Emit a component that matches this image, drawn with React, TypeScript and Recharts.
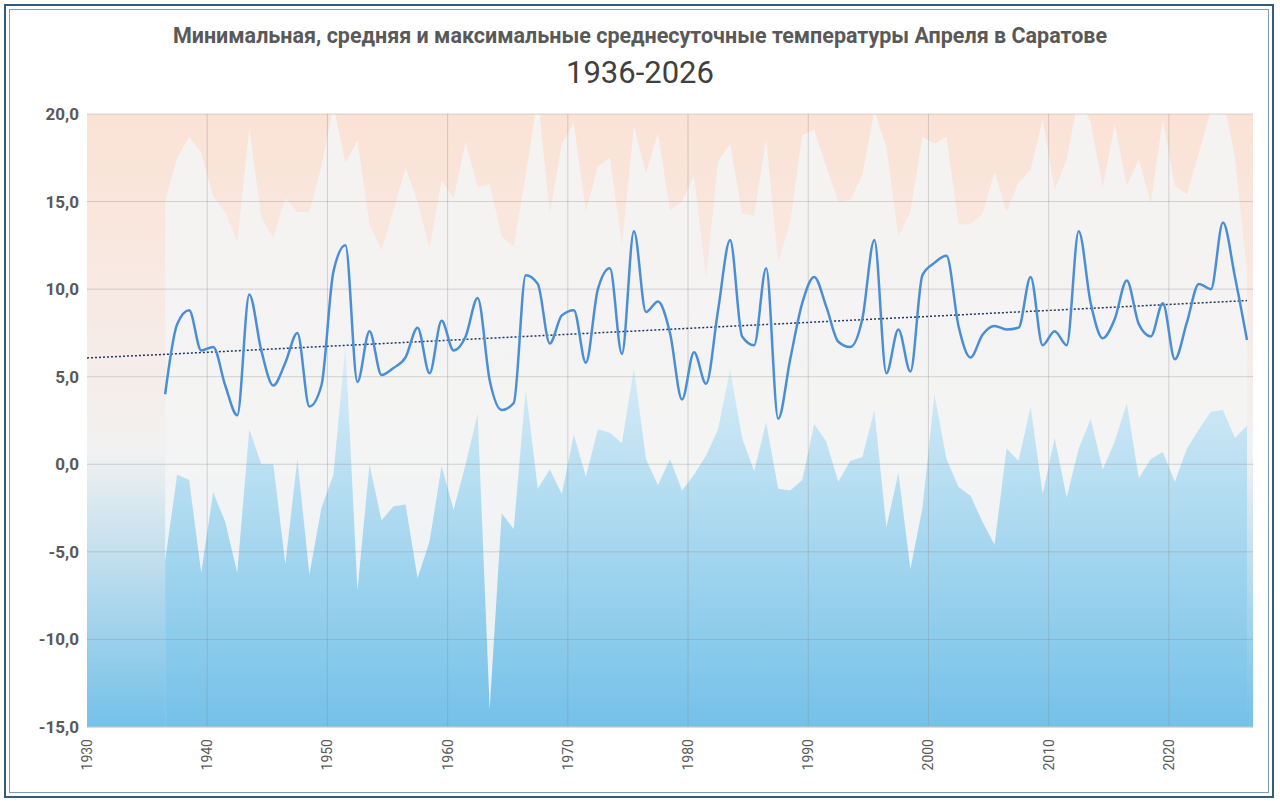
import React from 'react';
import { ComposedChart, Area, Line, XAxis, YAxis, ReferenceArea, ReferenceLine } from 'recharts';

const years = Array.from({ length: 91 }, (_, i) => 1936 + i);

const meanTemp = [
  4.0, 8.0, 8.8, 6.5, 6.7, 4.5, 2.8, 9.7, 6.5, 4.5,
  5.8, 7.5, 3.3, 4.5, 11.0, 12.5, 4.7, 7.6, 5.1, 5.5,
  6.1, 7.8, 5.2, 8.2, 6.5, 7.3, 9.5, 4.8, 3.1, 3.5,
  10.8, 10.3, 6.9, 8.5, 8.8, 5.8, 10.0, 11.2, 6.3, 13.3,
  8.7, 9.3, 7.5, 3.7, 6.4, 4.6, 8.8, 12.8, 7.3, 6.8,
  11.2, 2.6, 6.0, 9.2, 10.7, 9.0, 7.0, 6.7, 8.3, 12.8,
  5.2, 7.7, 5.3, 10.8, 11.5, 11.9, 7.9, 6.1, 7.4, 7.9,
  7.7, 7.8, 10.7, 6.8, 7.6, 6.8, 13.3, 9.2, 7.2, 8.3,
  10.5, 8.0, 7.3, 9.2, 6.0, 8.1, 10.3, 10.0, 13.8, 10.7,
  7.1,
];

const maxTemp = [
  15.0, 17.5, 18.7, 17.8, 15.3, 14.4, 12.7, 19.2, 14.1, 12.9,
  15.2, 14.4, 14.4, 17.0, 20.5, 17.2, 18.5, 13.7, 12.2, 14.5,
  16.9, 15.0, 12.3, 16.2, 15.2, 18.4, 15.8, 16.0, 13.0, 12.4,
  16.5, 21.0, 14.3, 18.3, 19.5, 14.4, 17.0, 17.5, 12.5, 19.3,
  16.6, 18.9, 14.5, 15.0, 16.5, 10.6, 17.3, 18.3, 14.3, 14.2,
  18.6, 11.5, 13.8, 18.8, 19.1, 17.0, 15.0, 15.1, 16.5, 20.2,
  18.1, 13.0, 14.4, 18.7, 18.3, 18.7, 13.7, 13.7, 14.3, 16.7,
  14.4, 16.1, 16.8, 19.7, 15.7, 17.4, 21.0, 19.5, 15.8, 19.4,
  15.9, 17.4, 14.9, 19.7, 15.9, 15.4, 17.8, 20.2, 21.0, 17.5,
  11.0,
];

const minTemp = [
  -5.5, -0.6, -0.9, -6.2, -1.6, -3.3, -6.2, 2.0, 0.0, 0.0,
  -5.7, 0.3, -6.3, -2.5, -0.6, 6.8, -7.2, 0.0, -3.2, -2.4,
  -2.3, -6.5, -4.4, -0.1, -2.6, 0.0, 2.9, -14.0, -2.8, -3.7,
  4.3, -1.4, -0.3, -1.7, 1.7, -0.7, 2.0, 1.8, 1.2, 5.5,
  0.3, -1.2, 0.3, -1.5, -0.6, 0.5, 2.0, 5.4, 1.5, -0.4,
  2.4, -1.4, -1.5, -0.9, 2.3, 1.3, -1.0, 0.2, 0.4, 3.1,
  -3.6, -0.5, -6.0, -2.5, 4.0, 0.3, -1.3, -1.8, -3.3, -4.6,
  0.9, 0.2, 3.3, -1.7, 1.5, -1.9, 0.9, 2.6, -0.3, 1.3,
  3.5, -0.8, 0.3, 0.7, -1.0, 0.9, 2.0, 3.0, 3.1, 1.5,
  2.2,
];

const xTicks = [1930, 1940, 1950, 1960, 1970, 1980, 1990, 2000, 2010, 2020];
const yTicks = [-15, -10, -5, 0, 5, 10, 15, 20];

// linear trend of the mean (as Excel's trendline), extended back to 1930
const n = years.length;
const mx = years.reduce((a, b) => a + b, 0) / n;
const my = meanTemp.reduce((a, b) => a + b, 0) / n;
let sxy = 0;
let sxx = 0;
years.forEach((y, i) => {
  sxy += (y - mx) * (meanTemp[i] - my);
  sxx += (y - mx) * (y - mx);
});
const slope = sxy / sxx;
const trendAt = (y: number) => my + slope * (y - mx);

// points sit in the middle of each year's slot
const data = [
  { pos: 1930, trend: trendAt(1930) },
  ...years.map((year, i) => ({
    pos: year + 0.5,
    mean: meanTemp[i],
    max: maxTemp[i],
    min: minTemp[i],
    trend: trendAt(year),
  })),
];

const fmt = (v: number) => v.toFixed(1).replace('.', ',');

const XTick = (props: any) => {
  const { x, y, payload } = props;
  return (
    <text x={x + 5} y={y + 4} transform={`rotate(-90 ${x + 5} ${y + 4})`} textAnchor="end" fill="#595959" fontSize={14} fontFamily="Roboto, sans-serif">
      {payload.value}
    </text>
  );
};

const gridColor = 'rgba(140,140,140,0.35)';

export default function App() {
  return (
    <div style={{ position: 'fixed', left: 0, top: 0, width: 1280, height: 806, background: '#fff', fontFamily: 'Roboto, sans-serif' }}>
      <div style={{ position: 'absolute', left: 4, top: 4, width: 1266, height: 790, border: '2px solid #2f5d7e', boxShadow: 'inset 0 0 0 3px #fff, inset 0 0 0 4px #7f9bb0' }} />
      <div style={{ position: 'absolute', top: 23, width: 1280, textAlign: 'center', fontSize: 21.5, fontWeight: 'bold', color: '#595959' }}>
        Минимальная, средняя и максимальные среднесуточные температуры Апреля в Саратове
      </div>
      <div style={{ position: 'absolute', top: 54, width: 1280, textAlign: 'center', fontSize: 31, color: '#404040' }}>
        1936-2026
      </div>
      <div style={{ position: 'absolute', left: 0, top: 0 }}>
        <ComposedChart width={1280} height={806} data={data} margin={{ top: 114, right: 27, left: 0, bottom: 9 }}>
          <defs>
            <linearGradient id="bg" x1="0" y1="0" x2="0" y2="1">
              <stop offset="0%" stopColor="#fbe2d5" />
              <stop offset="40%" stopColor="#f6ece8" />
              <stop offset="55%" stopColor="#f1f1f1" />
              <stop offset="100%" stopColor="#74c1e8" />
            </linearGradient>
            <linearGradient id="minFill" x1="0" y1="0" x2="0" y2="1">
              <stop offset="0%" stopColor="#dceef7" />
              <stop offset="100%" stopColor="#74c1e8" />
            </linearGradient>
          </defs>
          <XAxis
            dataKey="pos"
            type="number"
            domain={[1930, 2027]}
            ticks={xTicks}
            tick={<XTick />}
            height={70}
            axisLine={{ stroke: '#d0d0d0' }}
            tickLine={false}
          />
          <YAxis
            type="number"
            domain={[-15, 20]}
            ticks={yTicks}
            tickFormatter={fmt}
            width={87}
            axisLine={false}
            tickLine={false}
            tick={{ fill: '#595959', fontSize: 17, fontWeight: 'bold' }}
            allowDataOverflow
          />
          <ReferenceArea x1={1930} x2={2027} y1={-15} y2={20} fill="url(#bg)" fillOpacity={1} stroke="none" ifOverflow="hidden" />
          <Area dataKey="max" type="linear" baseValue={-15} fill="#f4f4f4" fillOpacity={0.9} stroke="none" isAnimationActive={false} />
          <Area dataKey="min" type="linear" baseValue={-15} fill="url(#minFill)" fillOpacity={1} stroke="none" isAnimationActive={false} />
          {yTicks.map((t) => (
            <ReferenceLine key={'y' + t} y={t} stroke={gridColor} strokeWidth={1} />
          ))}
          {xTicks.slice(1).map((t) => (
            <ReferenceLine key={'x' + t} x={t} stroke={gridColor} strokeWidth={1} />
          ))}
          <Line dataKey="trend" type="linear" stroke="#1f3864" strokeWidth={1.5} strokeDasharray="2 2" dot={false} isAnimationActive={false} />
          <Line dataKey="mean" type="monotone" stroke="#4a8fd6" strokeWidth={2.5} dot={false} isAnimationActive={false} />
        </ComposedChart>
      </div>
    </div>
  );
}
